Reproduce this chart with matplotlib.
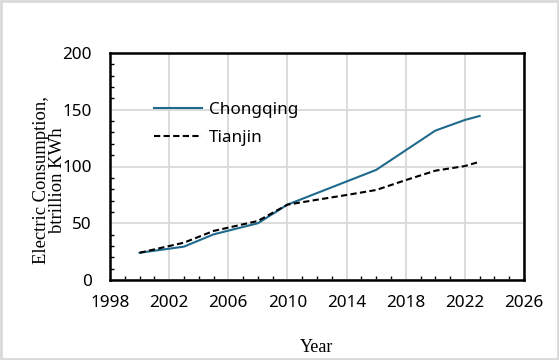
import matplotlib
matplotlib.use("Agg")
import matplotlib.pyplot as plt
from matplotlib.ticker import MultipleLocator
from matplotlib.patches import Rectangle

years_cq = [2000, 2003, 2005, 2008, 2010, 2012, 2014, 2016, 2018, 2020, 2022, 2023]
chongqing = [24, 29.4, 40.2, 50, 66.4, 76.6, 86.8, 97, 114.3, 131.6, 141, 144.5]
years_tj = [2000, 2003, 2005, 2008, 2010, 2012, 2014, 2016, 2018, 2020, 2022, 2023]
tianjin = [24, 32.9, 43.2, 52, 66.4, 70.7, 74.9, 79.3, 88, 96.3, 100.4, 104.2]
x_ticks = [1998, 2002, 2006, 2010, 2014, 2018, 2022, 2026]
y_ticks = [0, 50, 100, 150, 200]

fig = plt.figure(figsize=(5.59, 3.6), dpi=100)
ax = fig.add_axes([0.1968, 0.2222, 0.7406, 0.6306])

ax.plot(years_cq, chongqing, color="#1f6a8c", lw=1.5, label="Chongqing")
ax.plot(years_tj, tianjin, color="black", lw=1.5, ls=(0, (3, 1.6)), label="Tianjin")

ax.set_xlim(1998, 2026)
ax.set_ylim(0, 200)
ax.set_xticks(x_ticks)
ax.set_yticks(y_ticks)
ax.xaxis.set_minor_locator(MultipleLocator(1))
ax.yaxis.set_minor_locator(MultipleLocator(10))
ax.grid(True, which="major", color="#d9d9d9", lw=1.3)
ax.set_axisbelow(True)
for s in ax.spines.values():
    s.set_linewidth(1.8)
    s.set_color("black")
ax.tick_params(which="major", length=0, labelsize=12.3)
ax.tick_params(axis="y", which="major", pad=13)
ax.tick_params(axis="x", which="major", pad=11)
ax.tick_params(which="minor", direction="in", length=3, width=1)
for lab in ax.get_xticklabels() + ax.get_yticklabels():
    lab.set_fontfamily("Noto Sans")

ax.set_xlabel("Year", fontfamily="Liberation Serif", fontsize=13, labelpad=20)
fig.text(0.088, 0.5, "Electric Consumption,\nbtrillion KWh", rotation=90,
         ha="center", va="center", fontfamily="Liberation Serif", fontsize=13.4,
         linespacing=0.95)

leg = ax.legend(loc="upper left", bbox_to_anchor=(0.07, 0.85), frameon=False,
                prop={"family": "Noto Sans", "size": 12.3}, handlelength=2.8,
                handletextpad=0.4, labelspacing=0.65)

fig.patches.append(Rectangle((0.002, 0.003), 0.996, 0.994, transform=fig.transFigure,
                             fill=False, edgecolor="#d9d9d9", lw=2))
fig.savefig("out.png", dpi=100)
